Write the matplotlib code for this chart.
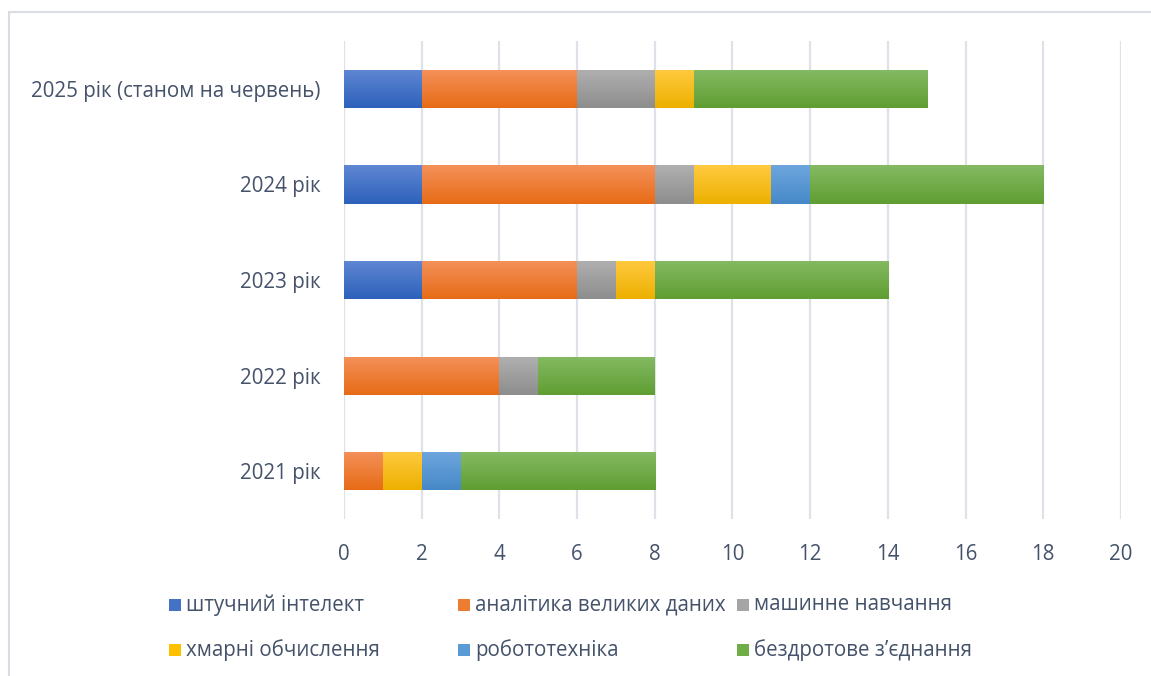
import numpy as np
import matplotlib
matplotlib.use('Agg')
import matplotlib.pyplot as plt
from matplotlib.colors import LinearSegmentedColormap
from matplotlib.patches import Rectangle

plt.rcParams['font.family'] = ['Open Sans', 'Noto Sans', 'DejaVu Sans']

# data
years = ['2021 рік', '2022 рік', '2023 рік', '2024 рік', '2025 рік (станом на червень)']
series = ['штучний інтелект', 'аналітика великих даних', 'машинне навчання',
          'хмарні обчислення', 'робототехніка', 'бездротове з’єднання']
ai = [0, 0, 2, 2, 2]
analytics = [1, 4, 4, 6, 4]
ml = [0, 1, 1, 1, 2]
cloud = [1, 0, 1, 2, 1]
robotics = [1, 0, 0, 1, 0]
wireless = [5, 3, 6, 6, 6]
values = [ai, analytics, ml, cloud, robotics, wireless]

# gradient colours (top, bottom) like the Excel default style
grads = [('#5F87D3', '#2D61BA'),
         ('#F4915A', '#E76B16'),
         ('#B0B0B0', '#8D8D8D'),
         ('#FFCA40', '#EDB000'),
         ('#6EA6DE', '#4689C8'),
         ('#85BA62', '#5F9E33')]
flat = ['#4472C4', '#ED7D31', '#A5A5A5', '#FFC000', '#5B9BD5', '#70AD47']
text_col = '#44526A'
grid_col = '#DEE2E8'
fs = 14.8

fig = plt.figure(figsize=(11.51, 6.76), dpi=100)
ax = fig.add_axes([0.2989, 0.2322, 0.675, 0.7071])

# chart frame
fig.add_artist(Rectangle((9 / 1151, -0.05), 1.2, 1 - 12 / 676 + 0.05,
                         transform=fig.transFigure, fill=False,
                         edgecolor='#D9DDE3', linewidth=1.5))

y = np.arange(len(years))
left = np.zeros(len(years))
grad = np.linspace(0, 1, 64).reshape(-1, 1)
for vals, (c_top, c_bot) in zip(values, grads):
    cmap = LinearSegmentedColormap.from_list('g', [c_top, c_bot])
    bars = ax.barh(y, vals, left=left, height=0.4, color='none', edgecolor='none', zorder=2)
    for b in bars:
        if b.get_width() <= 0:
            continue
        x0, y0 = b.get_x(), b.get_y()
        im = ax.imshow(grad, extent=(x0, x0 + b.get_width(), y0, y0 + b.get_height()),
                       cmap=cmap, aspect='auto', origin='upper', zorder=2,
                       interpolation='bilinear')
        im.set_clip_path(b)
    left += np.array(vals)

ax.set_xlim(0, 20)
ax.set_ylim(-0.5, len(years) - 0.5)
ax.set_aspect('auto')
ax.set_xticks(np.arange(0, 21, 2))
ax.set_yticks(y)
ax.set_yticklabels(years)
ax.xaxis.grid(True, color=grid_col, linewidth=1.6, zorder=0)
ax.set_axisbelow(True)
for s in ax.spines.values():
    s.set_visible(False)
ax.tick_params(axis='both', length=0, labelsize=fs, colors=text_col)
ax.tick_params(axis='x', pad=18)
ax.tick_params(axis='y', pad=17)

# legend laid out like Excel: equal column widths, two rows
col_x = [169, 458, 737]
row_y = [605, 650]
for i, (name, c) in enumerate(zip(series, flat)):
    cx = col_x[i % 3] / 1151
    cy = 1 - row_y[i // 3] / 676
    fig.add_artist(Rectangle((cx, cy - 6 / 676), 12 / 1151, 12 / 676,
                             transform=fig.transFigure, facecolor=c, edgecolor='none'))
    fig.text(cx + 17 / 1151, cy, name, fontsize=fs, color=text_col,
             va='center', ha='left')

fig.savefig('out.png', dpi=100)
